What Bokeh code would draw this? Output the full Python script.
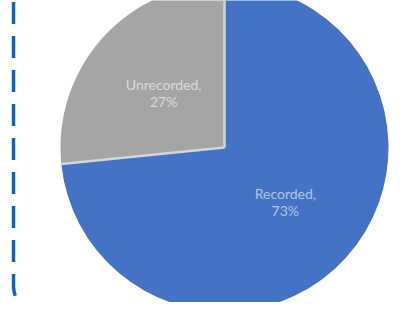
import numpy as np
from bokeh.plotting import figure
from bokeh.models import Range1d
from bokeh.core.properties import value
from bokeh.embed import file_html
from bokeh.resources import INLINE

# ---- data ----
categories = ["Recorded,", "Unrecorded,"]
shares = [73.4, 26.6]
pct_labels = ["73%", "27%"]
colors = ["#4472C4", "#A5A5A5"]

# ---- layout (reference pixel coordinates) ----
PW, PH = 403, 302
CX, CY, R = 224, 147, 164


def Y(py):
    return PH - py


p = figure(width=PW, height=PH,
           x_range=Range1d(0, PW), y_range=Range1d(0, PH),
           output_backend="svg", toolbar_location=None,
           x_axis_type=None, y_axis_type=None, min_border=0,
           outline_line_color=None,
           background_fill_color="white", border_fill_color="white")

fr = np.array(shares, dtype=float) / sum(shares)
cum = np.concatenate([[0.0], np.cumsum(fr)])
start = np.pi / 2 - cum[:-1] * 2 * np.pi
end = np.pi / 2 - cum[1:] * 2 * np.pi

p.wedge(x=[CX] * len(shares), y=[Y(CY)] * len(shares), radius=R,
        start_angle=list(start), end_angle=list(end), direction="clock",
        fill_color=colors, line_color=None)

# slice separators
bang = np.pi / 2 - cum[:-1] * 2 * np.pi
p.segment(x0=[CX] * len(bang), y0=[Y(CY)] * len(bang),
          x1=list(CX + R * np.cos(bang)), y1=list(Y(CY) + R * np.sin(bang)),
          line_color="#d6d6d6", line_width=2.5)

# labels
mid = (start + end) / 2
lx = CX + 0.5 * R * np.cos(mid)
ly = Y(CY) + 0.5 * R * np.sin(mid)
p.text(x=list(lx), y=list(ly + 8.5), text=categories,
       text_font=value("Lato"), text_font_size="14px",
       text_color="white", text_alpha=0.6,
       text_align="center", text_baseline="middle")
p.text(x=list(lx), y=list(ly - 8.5), text=pct_labels,
       text_font=value("Lato"), text_font_size="14px",
       text_color="white", text_alpha=0.6,
       text_align="center", text_baseline="middle")

# dashed rounded border (decoration)
bx, by = [13, 13], [1.5, 285]
t = np.linspace(0, np.pi / 2, 40)
bx += list(43 - 30 * np.cos(t)); by += list(285 + 30 * np.sin(t))
bx += [389]; by += [315]
bx += list(389 + 30 * np.sin(t)); by += list(285 + 30 * np.cos(t))
bx += [419]; by += [0]
p.line(x=bx, y=[Y(v) for v in by], line_color="#0a64c2", line_width=3.5,
       line_dash="22 12")

open("out.html", "w").write(file_html(p, INLINE))
